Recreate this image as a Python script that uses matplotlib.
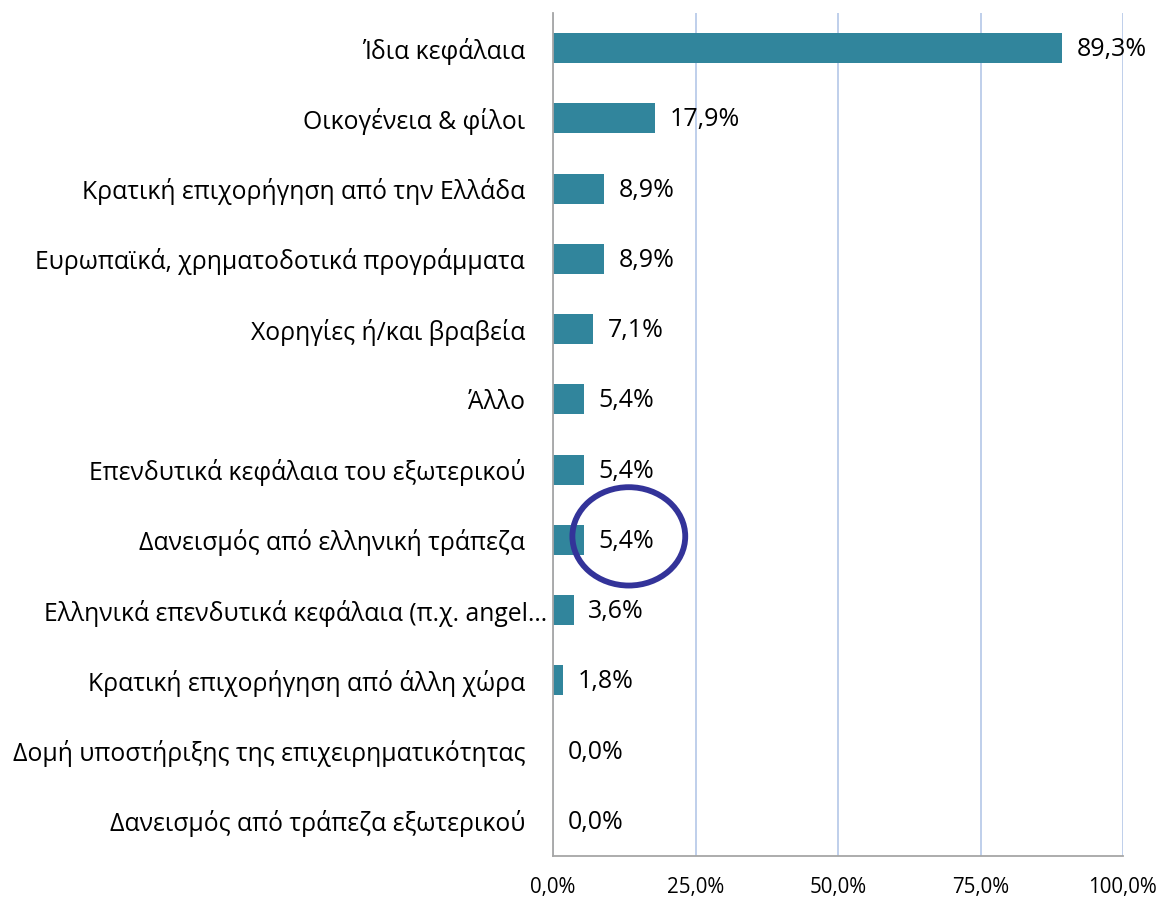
import matplotlib
matplotlib.use('Agg')
import matplotlib.pyplot as plt
from matplotlib.patches import Ellipse
from matplotlib.transforms import ScaledTranslation

plt.rcParams['font.family'] = ['Open Sans', 'DejaVu Sans']

# data, top to bottom as in the chart
categories = [
    "Ίδια κεφάλαια",
    "Οικογένεια & φίλοι",
    "Κρατική επιχορήγηση από την Ελλάδα",
    "Ευρωπαϊκά, χρηματοδοτικά προγράμματα",
    "Χορηγίες ή/και βραβεία",
    "Άλλο",
    "Επενδυτικά κεφάλαια του εξωτερικού",
    "Δανεισμός από ελληνική τράπεζα",
    "Ελληνικά επενδυτικά κεφάλαια (π.χ. angel…",
    "Κρατική επιχορήγηση από άλλη χώρα",
    "Δομή υποστήριξης της επιχειρηματικότητας",
    "Δανεισμός από τράπεζα εξωτερικού",
]
values = [89.3, 17.9, 8.9, 8.9, 7.1, 5.4, 5.4, 5.4, 3.6, 1.8, 0.0, 0.0]
x_ticks = [0, 25, 50, 75, 100]
highlight = "Δανεισμός από ελληνική τράπεζα"

BAR = '#31859C'
GRID = '#B4C7E7'
SPINE = '#A6A6A6'

fig = plt.figure(figsize=(11.61, 9.10), dpi=100)
ax = fig.add_axes([553 / 1161, 1 - 856 / 910, (1123 - 553) / 1161, (856 - 13) / 910])

y = list(range(len(categories)))
ax.barh(y, values, height=0.43, color=BAR, zorder=3)

for yi, v in zip(y, values):
    ax.annotate(f"{v:.1f}".replace('.', ',') + '%', (v, yi), xytext=(10.5, -1),
                textcoords='offset points', va='center', ha='left',
                fontsize=18, color='black', zorder=4)

ax.set_xlim(0, 100)
ax.set_ylim(len(categories) - 0.5, -0.5)
ax.set_yticks(y)
ax.set_yticklabels(categories, fontsize=17.8)
ax.set_xticks(x_ticks)
ax.set_xticklabels([f"{t:.1f}".replace('.', ',') + '%' for t in x_ticks], fontsize=14.8)
ax.tick_params(axis='y', length=0, pad=20)
ax.tick_params(axis='x', length=0, pad=15)

# the truncated label sits closer to the axis, as Excel drew it
for lbl in ax.get_yticklabels():
    if lbl.get_text().endswith('…'):
        lbl.set_transform(lbl.get_transform() + ScaledTranslation(0.22, 0, fig.dpi_scale_trans))

ax.grid(axis='x', color=GRID, linewidth=1.2, zorder=0)
ax.grid(axis='y', visible=False)
for s in ['top', 'right']:
    ax.spines[s].set_visible(False)
for s in ['left', 'bottom']:
    ax.spines[s].set_color(SPINE)
    ax.spines[s].set_linewidth(1.3)
    ax.spines[s].set_zorder(5)

# circle around the highlighted label
hi = categories.index(highlight)
ax.add_patch(Ellipse((13.3, hi - 0.05), 19.8, 1.40, fill=False,
                     edgecolor='#333399', linewidth=4.2, clip_on=False, zorder=6))

fig.savefig('out.png', dpi=100)
